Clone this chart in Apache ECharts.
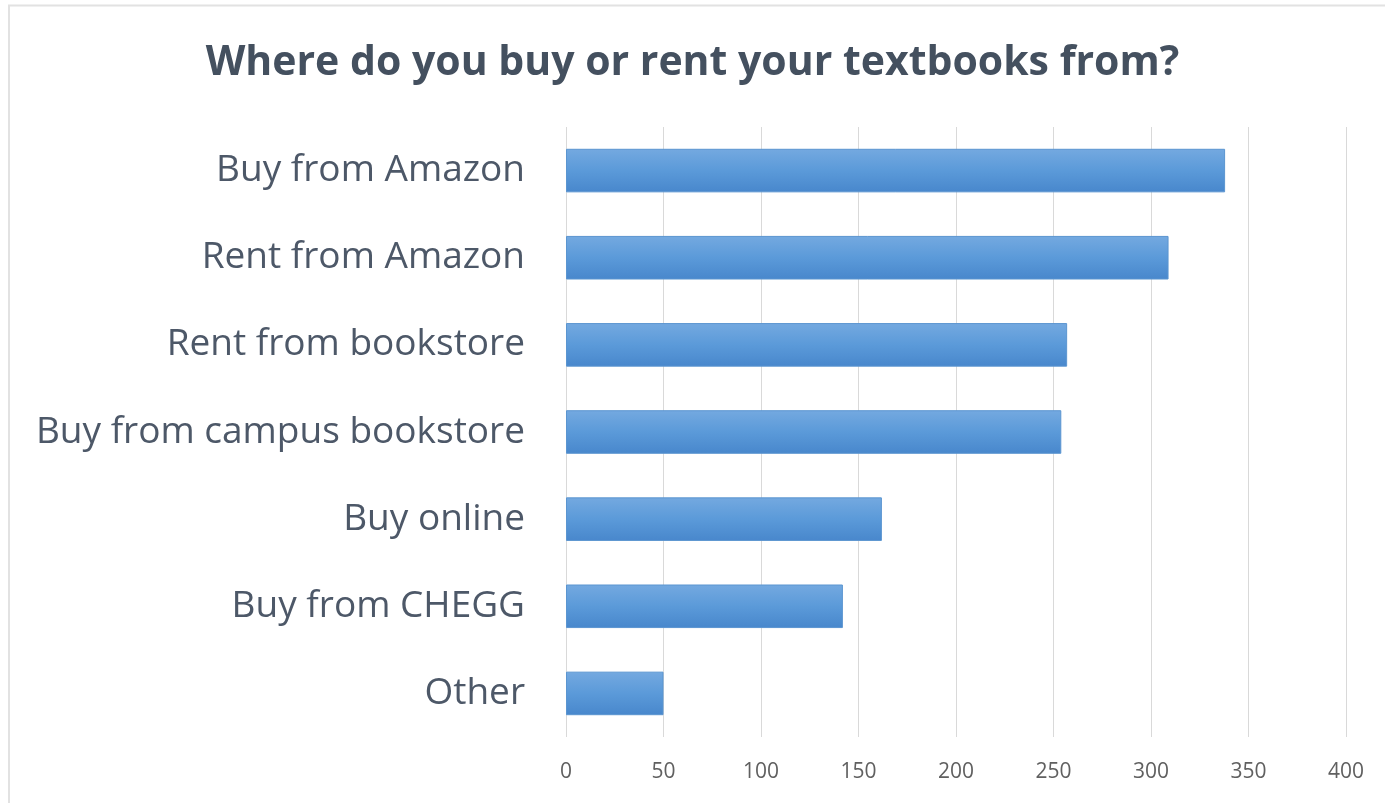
<!DOCTYPE html>
<html>
<head>
<meta charset="utf-8">
<script src="https://cdn.jsdelivr.net/npm/echarts@6/dist/echarts.min.js"></script>
<style>
html,body{margin:0;padding:0;background:#fff;}
#chart{width:1385px;height:803px;}
</style>
</head>
<body>
<div id="chart"></div>
<script>
const titleText = 'Where do you buy or rent your textbooks from?';
const categories = ['Buy from Amazon','Rent from Amazon','Rent from bookstore','Buy from campus bookstore','Buy online','Buy from CHEGG','Other'];
const values = [338, 309, 257, 254, 162, 142, 50];
const xTicks = [0, 50, 100, 150, 200, 250, 300, 350, 400];

const chart = echarts.init(document.getElementById('chart'), null, {renderer:'canvas'});
chart.setOption({
  backgroundColor: '#ffffff',
  animation: false,
  title: {
    text: titleText,
    left: 'center',
    top: 38,
    textStyle: {fontFamily: 'Open Sans', fontWeight: 'bold', fontSize: 41, color: '#44505f'}
  },
  graphic: [
    {type:'line', shape:{x1:8,y1:5.5,x2:1385,y2:5.5}, style:{stroke:'#e2e2e2', lineWidth:2}},
    {type:'line', shape:{x1:9,y1:5,x2:9,y2:803}, style:{stroke:'#e2e2e2', lineWidth:2}}
  ],
  grid: {left: 566, right: 39, top: 127, bottom: 66, containLabel: false},
  xAxis: {
    type: 'value',
    min: xTicks[0],
    max: xTicks[xTicks.length-1],
    interval: 50,
    axisLine: {show:false},
    axisTick: {show:false},
    splitLine: {show:true, lineStyle:{color:'#d9d9d9', width:1}},
    axisLabel: {margin: 25, fontFamily:'Open Sans', fontSize: 21, color:'#606060'}
  },
  yAxis: {
    type: 'category',
    inverse: true,
    data: categories,
    axisLine: {show:false},
    axisTick: {show:false},
    axisLabel: {margin: 41, fontFamily:'Open Sans', fontSize: 37, color:'#4d5868'}
  },
  series: [{
    type: 'bar',
    data: values,
    barCategoryGap: '50%',
    itemStyle: {
      color: new echarts.graphic.LinearGradient(0,0,0,1,[
        {offset:0, color:'#74a9e0'},
        {offset:0.5, color:'#5b9ad9'},
        {offset:1, color:'#4887cc'}
      ]),
      borderColor: '#5b95d0',
      borderWidth: 1
    }
  }]
});
</script>
</body>
</html>
